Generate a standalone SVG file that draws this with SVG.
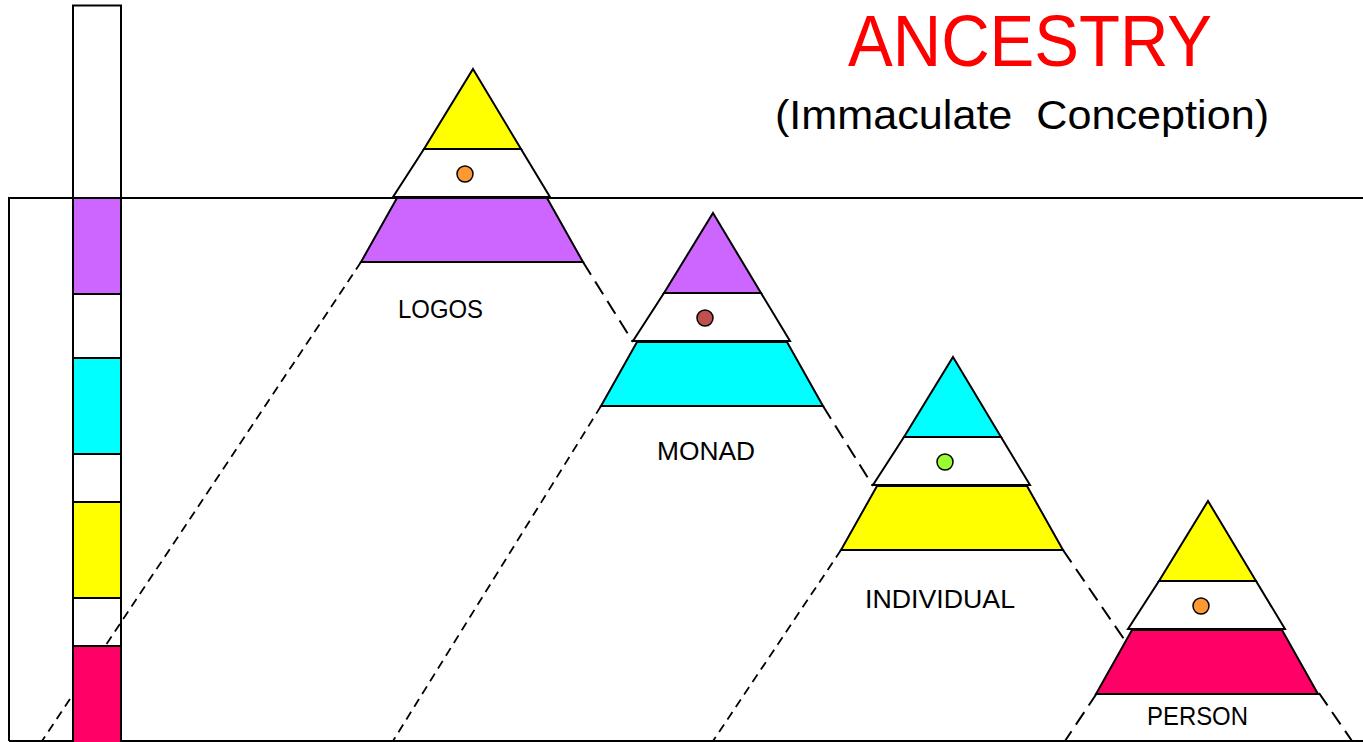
<svg xmlns="http://www.w3.org/2000/svg" width="1363" height="742" viewBox="0 0 1363 742">
<style>
.ln{fill:none;stroke:#000;stroke-width:2}
.sh{stroke:#000;stroke-width:2;stroke-linejoin:miter}
.w{fill:#fff}
.y{fill:#FFFF00}
.p{fill:#CC66FF}
.c{fill:#00FFFF}
.m{fill:#FF0066}
.dot{stroke:#000;stroke-width:1.5}
.dl{fill:none;stroke:#000;stroke-width:1.8;stroke-dasharray:9 6}
.dr{fill:none;stroke:#000;stroke-width:2;stroke-dasharray:15 8}
.lbl{font-family:"Liberation Sans",Arial,sans-serif;font-size:25px;fill:#000}
</style>
<rect width="1363" height="742" fill="#fff"/>
<g id="frame">
<path class="ln" d="M9,741 V198 H1363 M9,741 H1363"/>
</g>
<g id="connectors">
<line class="dl" x1="361" y1="262" x2="42" y2="741"/>
<line class="dr" x1="583" y1="262" x2="633" y2="342"/>
<line class="dl" x1="601" y1="406" x2="393" y2="741"/>
<line class="dr" x1="823" y1="406" x2="873" y2="486"/>
<line class="dl" x1="841" y1="550" x2="713" y2="741"/>
<line class="dr" x1="1063" y1="550" x2="1128" y2="645"/>
<line class="dr" x1="1097" y1="693" x2="1065" y2="741"/>
<line class="dr" x1="1319" y1="693" x2="1352" y2="741"/>
</g>
<g id="scale-bar">
<rect class="sh" x="73" y="5.5" width="48" height="192.5" fill="none"/>
<rect class="sh p" x="73" y="198" width="48" height="96"/>
<rect class="sh" x="73" y="294" width="48" height="64" fill="none"/>
<rect class="sh c" x="73" y="358" width="48" height="96"/>
<rect class="sh" x="73" y="454" width="48" height="48" fill="none"/>
<rect class="sh y" x="73" y="502" width="48" height="96"/>
<rect class="sh" x="73" y="598" width="48" height="48" fill="none"/>
<rect class="sh m" x="73" y="646" width="48" height="100"/>
</g>
<g id="logos">
<polygon class="sh y" points="473,69 521,149 424,149"/>
<polygon class="sh w" points="424,149 521,149 550,197 393,197"/>
<polygon class="sh p" points="397,198 547,198 583,262 361,262"/>
<circle class="dot" cx="465" cy="174" r="8" fill="#FF9933"/>
<text class="lbl" x="398" y="318" textLength="85" lengthAdjust="spacingAndGlyphs">LOGOS</text>
</g>
<g id="monad" transform="translate(240,144)">
<polygon class="sh p" points="473,69 521,149 424,149"/>
<polygon class="sh w" points="424,149 521,149 550,197 393,197"/>
<polygon class="sh c" points="397,198 547,198 583,262 361,262"/>
<circle class="dot" cx="465" cy="174" r="8" fill="#C0504D"/>
<text class="lbl" x="417" y="316" textLength="98" lengthAdjust="spacingAndGlyphs">MONAD</text>
</g>
<g id="individual" transform="translate(480,288)">
<polygon class="sh c" points="473,69 521,149 424,149"/>
<polygon class="sh w" points="424,149 521,149 550,197 393,197"/>
<polygon class="sh y" points="397,198 547,198 583,262 361,262"/>
<circle class="dot" cx="465" cy="174" r="8" fill="#99FF33"/>
<text class="lbl" x="385" y="320" textLength="150" lengthAdjust="spacingAndGlyphs">INDIVIDUAL</text>
</g>
<g id="person" transform="translate(735,432)">
<polygon class="sh y" points="473,69 521,149 424,149"/>
<polygon class="sh w" points="424,149 521,149 550,197 393,197"/>
<polygon class="sh m" points="397,198 547,198 583,262 361,262"/>
<circle class="dot" cx="466" cy="174" r="8" fill="#FF9933"/>
<text class="lbl" x="412" y="293" textLength="101" lengthAdjust="spacingAndGlyphs">PERSON</text>
</g>
<g id="title">
<text x="848" y="66" font-family="'Liberation Sans',Arial,sans-serif" font-size="72" fill="#FF0000" textLength="364" lengthAdjust="spacingAndGlyphs">ANCESTRY</text>
<text x="775" y="129" font-family="'Liberation Sans',Arial,sans-serif" font-size="41" fill="#000" textLength="494" lengthAdjust="spacingAndGlyphs" xml:space="preserve">(Immaculate  Conception)</text>
</g>
</svg>
